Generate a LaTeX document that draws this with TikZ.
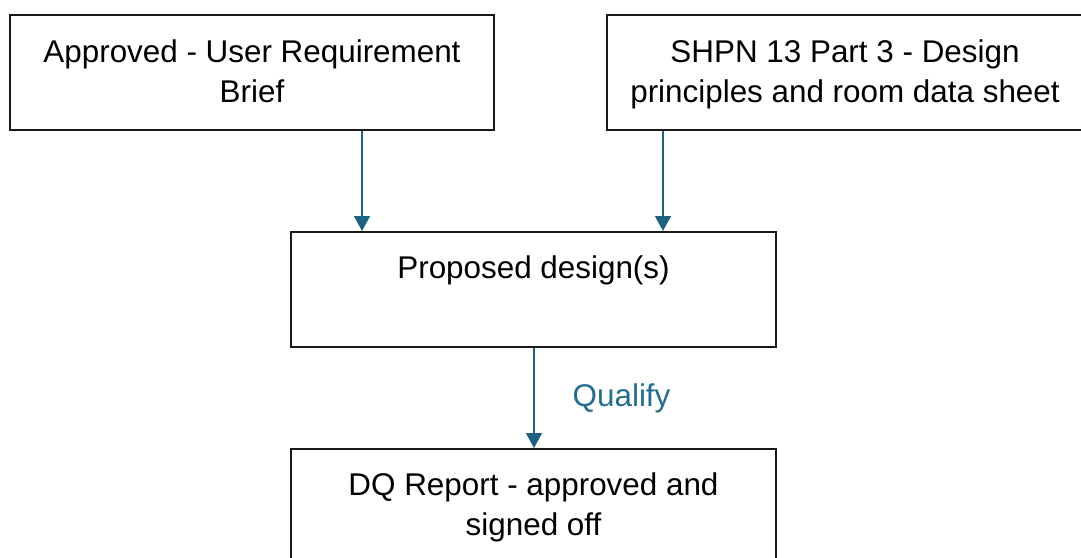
\documentclass[tikz,border=0pt]{standalone}
\usepackage{fontspec}
\setmainfont{Liberation Sans}
\usetikzlibrary{arrows.meta}
\definecolor{arrowblue}{HTML}{1D6283}
\definecolor{labelblue}{HTML}{236E8E}
\definecolor{boxline}{HTML}{1A1A1A}
\begin{document}
\begin{tikzpicture}[x=0.5pt,y=-0.5pt,
  box/.style={draw=boxline,line width=1pt,rectangle,inner sep=0pt},
  txt/.style={font=\fontsize{15.7pt}{20pt}\selectfont,align=center,inner sep=0pt,anchor=base},
  flow/.style={draw=arrowblue,line width=0.7pt,-{Triangle[length=7.5pt,width=8pt]}}]
\clip (0,0) rectangle (1081,557);
\fill[white] (0,0) rectangle (1081,557);
% boxes
\node[box,minimum width=242pt,minimum height=57.5pt] (urb) at (252,72.5) {};
\node[box,minimum width=238pt,minimum height=57.5pt] (shpn) at (845,72.5) {};
\node[box,minimum width=242.5pt,minimum height=57.5pt] (prop) at (533.5,289.5) {};
\node[box,minimum width=242.5pt,minimum height=57.5pt] (dq) at (533.5,506.5) {};
% texts
\node[txt] (urbt1) at (252,62) {Approved - User Requirement};
\node[txt] (urbt2) at (252,102) {Brief};
\node[txt] (shpnt1) at (845,62) {SHPN 13 Part 3 - Design};
\node[txt] (shpnt2) at (845,102) {principles and room data sheet};
\node[txt] (propt) at (533.5,278) {Proposed design(s)};
\node[txt] (dqt1) at (533.5,495) {DQ Report - approved and};
\node[txt] (dqt2) at (533.5,535) {signed off};
% connectors
\draw[flow] (urb.south -| 362,0) -- (prop.north -| 362,0);
\draw[flow] (shpn.south -| 663,0) -- (prop.north -| 663,0);
\draw[flow] (prop.south -| 534,0) -- node[right=19pt,text=labelblue,font=\fontsize{15.7pt}{20pt}\selectfont,inner sep=0pt] (qual) {Qualify} (dq.north -| 534,0);
\end{tikzpicture}
\end{document}
